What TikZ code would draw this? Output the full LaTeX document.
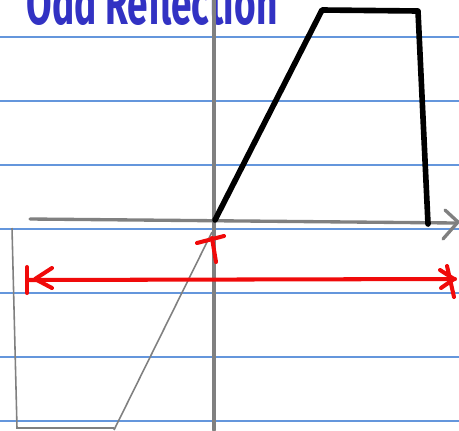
\documentclass[tikz,border=0pt]{standalone}
\usepackage{fontspec}
\setmainfont{Fira Sans}
\usetikzlibrary{arrows.meta}
\definecolor{ruleblue}{RGB}{100,150,220}
\definecolor{inkblue}{RGB}{50,50,195}
\definecolor{axisgray}{RGB}{128,128,128}
\definecolor{penred}{RGB}{240,10,10}
\begin{document}
\begin{tikzpicture}[x=0.02cm,y=-0.02cm,
		paperrule/.style={ruleblue,line width=0.6pt},
		axisline/.style={axisgray,line width=1.9pt,line cap=round},
		piece/.style={black,line width=3.2pt,line cap=round,line join=round},
		mirrorpiece/.style={axisgray,line width=0.9pt},
		redmark/.style={penred,line width=2.3pt,line cap=round,line join=round}]
			\useasboundingbox (0,0) rectangle (459,430);
			\clip (0,0) rectangle (459,430);
			% ruled paper
			\foreach \y in {37,101,165,229,293,357,421}
				\draw[paperrule] (0,\y) -- (459,\y);
			% title
			\node[inkblue,font=\bfseries\fontsize{34}{34}\selectfont,xscale=0.62,anchor=base] (title) at (152,24) {Odd Reflection};
			% axes
			\draw[axisline] (214,0) -- (214,430);
			\draw[axisline] (30,219) -- (456,223);
			\draw[axisline] (445,210) -- (458,222) -- (443,239);
			% original piece
			\coordinate (o) at (215,220);
			\coordinate (p1) at (322,10);
			\coordinate (p2) at (418,11);
			\coordinate (p3) at (428,224);
			\draw[piece] (o) -- (p1) -- (p2) -- (p3);
			% reflected piece
			\draw[mirrorpiece] (212,232) -- (114,430);
			\draw[mirrorpiece] (12,228) -- (17,428) -- (114,428);
			% red marks
			\draw[redmark] (197,243) -- (224,236);
			\draw[redmark] (212,238) -- (216,262);
			\draw[redmark] (28,280) -- (455,279);
			\draw[redmark] (27,267) -- (27,293);
			\draw[redmark] (52,268) -- (35,279) -- (52,288);
			\draw[redmark] (447,266) -- (454,297);
			\draw[redmark] (440,270) -- (454,279) -- (441,288);
		\end{tikzpicture}
\end{document}
